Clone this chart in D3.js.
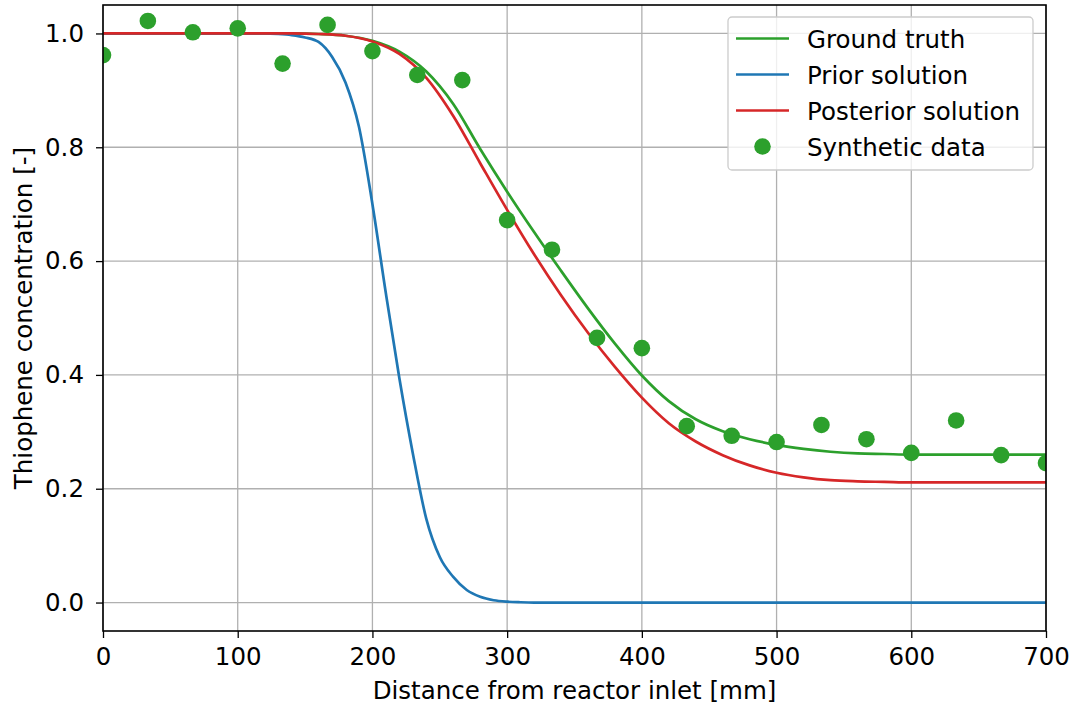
<!DOCTYPE html>
<html>
<head>
<meta charset="utf-8">
<script src="https://cdn.jsdelivr.net/npm/d3@7/dist/d3.min.js"></script>
<style>
  html, body { margin: 0; padding: 0; background: #fff; }
  svg { display: block; }
  text { font-family: "DejaVu Sans", sans-serif; }
</style>
</head>
<body>
<svg id="chart" width="1073" height="707"></svg>
<script>
// ---- Data ----
const xTicks = [0, 100, 200, 300, 400, 500, 600, 700];
const yTicks = [0.0, 0.2, 0.4, 0.6, 0.8, 1.0];

// Synthetic data (scatter)
const dataX = [0, 33.3, 66.7, 100, 133.3, 166.7, 200, 233.3, 266.7, 300, 333.3, 366.7, 400, 433.3, 466.7, 500, 533.3, 566.7, 600, 633.3, 666.7, 700];
const dataY = [0.962, 1.022, 1.002, 1.009, 0.947, 1.015, 0.969, 0.927, 0.918, 0.672, 0.620, 0.465, 0.447, 0.310, 0.293, 0.282, 0.312, 0.287, 0.263, 0.320, 0.259, 0.245];

// Ground truth curve
const truthX = [0, 140, 160, 180, 200, 220, 240, 260, 280, 300, 320, 340, 360, 380, 400, 420, 440, 460, 480, 500, 520, 540, 560, 580, 600, 700];
const truthY = [1.000, 1.000, 0.999, 0.996, 0.987, 0.968, 0.933, 0.876, 0.797, 0.722, 0.651, 0.583, 0.517, 0.455, 0.399, 0.354, 0.322, 0.301, 0.287, 0.277, 0.270, 0.265, 0.262, 0.261, 0.260, 0.260];

// Prior solution curve
const priorX = [0, 120, 130, 140, 150, 160, 170, 180, 190, 200, 210, 220, 230, 240, 250, 260, 270, 280, 290, 300, 310, 320, 700];
const priorY = [1.000, 1.000, 0.999, 0.997, 0.993, 0.985, 0.959, 0.914, 0.836, 0.700, 0.543, 0.394, 0.262, 0.147, 0.080, 0.045, 0.022, 0.010, 0.004, 0.0015, 0.0005, 0.000, 0.000];

// Posterior solution curve
const postX = [0, 140, 160, 180, 200, 220, 240, 260, 280, 300, 320, 340, 360, 380, 400, 420, 440, 460, 480, 500, 520, 540, 560, 580, 600, 700];
const postY = [1.000, 1.000, 0.999, 0.996, 0.986, 0.964, 0.922, 0.855, 0.772, 0.690, 0.612, 0.540, 0.474, 0.414, 0.360, 0.315, 0.283, 0.259, 0.241, 0.228, 0.220, 0.215, 0.213, 0.212, 0.211, 0.211];

const seriesNames = ["Ground truth", "Prior solution", "Posterior solution", "Synthetic data"];
const colors = { green: "#2ca02c", blue: "#1f77b4", red: "#d62728" };

// ---- Layout ----
const svg = d3.select("#chart");
const mLeft = 103, mRight = 1046, mTop = 5, mBottom = 631;
const fontSize = "24.5px";

const x = d3.scaleLinear().domain([0, 700]).range([mLeft, mRight]);
const y = d3.scaleLinear().domain([-0.05, 1.05]).range([mBottom, mTop]);

// clip
svg.append("defs").append("clipPath").attr("id", "clip")
  .append("rect").attr("x", mLeft).attr("y", mTop).attr("width", mRight - mLeft).attr("height", mBottom - mTop);

// grid
const grid = svg.append("g");
grid.selectAll("line.gx").data(xTicks).join("line").attr("class", "gx")
  .attr("x1", d => x(d)).attr("x2", d => x(d)).attr("y1", mTop).attr("y2", mBottom)
  .attr("stroke", "#b0b0b0").attr("stroke-width", 1.3);
grid.selectAll("line.gy").data(yTicks).join("line").attr("class", "gy")
  .attr("y1", d => y(d)).attr("y2", d => y(d)).attr("x1", mLeft).attr("x2", mRight)
  .attr("stroke", "#b0b0b0").attr("stroke-width", 1.3);

// lines
const plot = svg.append("g").attr("clip-path", "url(#clip)");
function drawLine(xs, ys, color) {
  const pts = xs.map((v, i) => [v, ys[i]]);
  const line = d3.line().x(d => x(d[0])).y(d => y(d[1])).curve(d3.curveMonotoneX);
  plot.append("path").attr("d", line(pts)).attr("fill", "none")
    .attr("stroke", color).attr("stroke-width", 2.7).attr("stroke-linejoin", "round");
}
drawLine(truthX, truthY, colors.green);
drawLine(priorX, priorY, colors.blue);
drawLine(postX, postY, colors.red);

plot.selectAll("circle.pt").data(dataX.map((v, i) => [v, dataY[i]])).join("circle").attr("class", "pt")
  .attr("cx", d => x(d[0])).attr("cy", d => y(d[1])).attr("r", 8.3)
  .attr("fill", colors.green);

// axes
const xAxis = d3.axisBottom(x).tickValues(xTicks).tickFormat(d3.format("d")).tickSize(7).tickPadding(10);
const yAxis = d3.axisLeft(y).tickValues(yTicks).tickFormat(d3.format(".1f")).tickSize(7).tickPadding(12);

const gx = svg.append("g").attr("transform", `translate(0,${mBottom})`).call(xAxis);
const gy = svg.append("g").attr("transform", `translate(${mLeft},0)`).call(yAxis);
[gx, gy].forEach(g => {
  g.select(".domain").remove();
  g.selectAll(".tick line").attr("stroke", "#000").attr("stroke-width", 1.3);
  g.selectAll(".tick text").attr("fill", "#000").style("font-size", fontSize).style("font-family", "DejaVu Sans");
});

// frame
svg.append("rect").attr("x", mLeft).attr("y", mTop).attr("width", mRight - mLeft).attr("height", mBottom - mTop)
  .attr("fill", "none").attr("stroke", "#000").attr("stroke-width", 1.6);

// axis labels
svg.append("text").attr("x", (mLeft + mRight) / 2).attr("y", 699).attr("text-anchor", "middle")
  .style("font-size", fontSize).text("Distance from reactor inlet [mm]");
svg.append("text").attr("transform", `translate(32,${(mTop + mBottom) / 2}) rotate(-90)`)
  .attr("text-anchor", "middle").style("font-size", fontSize).text("Thiophene concentration [-]");

// legend
const lg = svg.append("g");
lg.append("rect").attr("x", 728).attr("y", 17).attr("width", 305).attr("height", 153)
  .attr("rx", 4).attr("fill", "#fff").attr("fill-opacity", 0.8)
  .attr("stroke", "#cccccc").attr("stroke-width", 1.3);
const legendItems = [
  { name: seriesNames[0], color: colors.green, type: "line" },
  { name: seriesNames[1], color: colors.blue, type: "line" },
  { name: seriesNames[2], color: colors.red, type: "line" },
  { name: seriesNames[3], color: colors.green, type: "dot" }
];
legendItems.forEach((it, i) => {
  const cy = 38.5 + i * 36;
  if (it.type === "line") {
    lg.append("line").attr("x1", 736).attr("x2", 789).attr("y1", cy).attr("y2", cy)
      .attr("stroke", it.color).attr("stroke-width", 2.7);
  } else {
    lg.append("circle").attr("cx", 762.5).attr("cy", cy).attr("r", 8.3).attr("fill", it.color);
  }
  lg.append("text").attr("x", 807).attr("y", cy + 9).style("font-size", fontSize).text(it.name);
});
</script>
</body>
</html>
